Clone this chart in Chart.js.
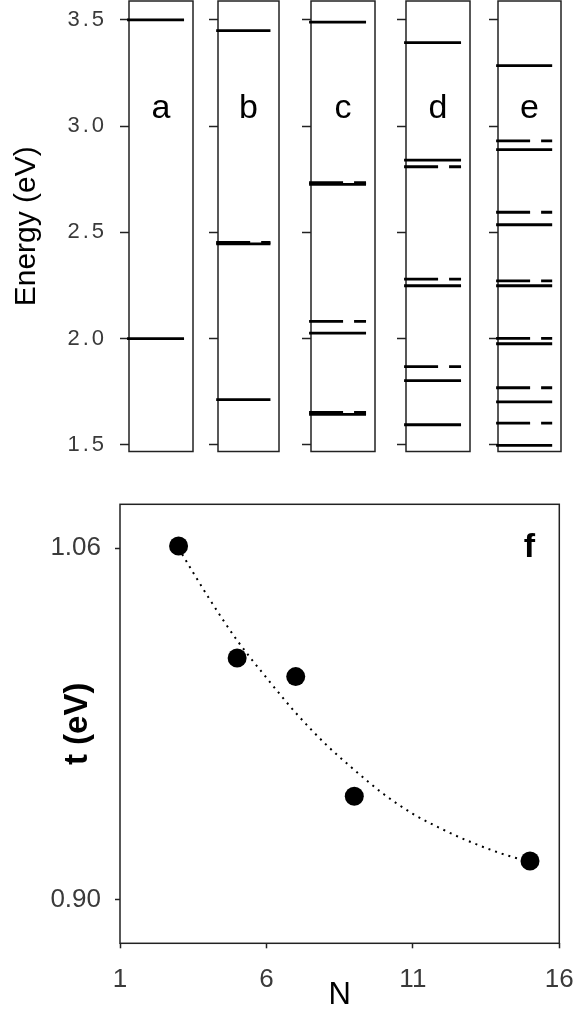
<!DOCTYPE html>
<html><head><meta charset="utf-8">
<script src="https://cdn.jsdelivr.net/npm/chart.js@4.4.1/dist/chart.umd.min.js"></script>
<style>
html,body{margin:0;padding:0;background:#fff;}
#wrap{position:relative;width:576px;height:1012px;overflow:hidden;background:#fff;}
#wrap canvas{position:absolute;}
</style></head><body><div id="wrap"></div>
<script>
// ---------- data ----------
const panelLabels = ['a', 'b', 'c', 'd', 'e', 'f'];
const energyTicks = [1.5, 2.0, 2.5, 3.0, 3.5];

const levelsA_solid  = [3.50, 2.00];
const levelsA_dashed = [];
const levelsB_solid  = [3.45, 2.446, 1.713];
const levelsB_dashed = [2.453];
const levelsC_solid  = [3.49, 2.726, 2.026, 1.644];
const levelsC_dashed = [2.734, 2.081, 1.653];
const levelsD_solid  = [3.393, 2.840, 2.249, 1.803, 1.595];
const levelsD_dashed = [2.809, 2.280, 1.868];
const levelsE_solid  = [3.285, 2.890, 2.536, 2.249, 1.976, 1.703, 1.498];
const levelsE_dashed = [2.931, 2.595, 2.272, 2.001, 1.769, 1.603];

const clusterN = [3, 5, 7, 9, 15];
const hoppingT = [1.061, 1.010, 1.0015, 0.947, 0.9175];
const fitN = [3, 4, 5, 6, 7, 8, 9, 10, 11, 12, 13, 14, 15];
const fitT = [1.060, 1.038, 1.018, 1.001, 0.985, 0.971, 0.959, 0.948, 0.939, 0.932, 0.926, 0.921, 0.917];
const tTicks = [0.90, 1.06];
const nTicks = [1, 6, 11, 16];

// ---------- layout / style ----------
const wrap = document.getElementById('wrap');
const INK = '#000';
const AXIS = '#222';
const TICKTXT = '#3a3a3a';
const FONT = 'Liberation Sans';
const panelBoxes = [
  {l: 129, r: 193}, {l: 218, r: 279}, {l: 311, r: 375}, {l: 406, r: 470}, {l: 498, r: 561}
];
const TOP_H = 470, BOX_TOP = 1, BOX_BOTTOM = 451.5;
const LEVEL_X0 = -0.03, LEVEL_X1 = 0.86;

function makeCanvas(left, top, w, h) {
  const c = document.createElement('canvas');
  c.width = w; c.height = h;
  c.style.left = left + 'px'; c.style.top = top + 'px';
  c.style.width = w + 'px'; c.style.height = h + 'px';
  wrap.appendChild(c);
  return c;
}

function noPad(s) {
  s.paddingTop = 0; s.paddingBottom = 0; s.paddingLeft = 0; s.paddingRight = 0;
}

const boxPlugin = {
  id: 'boxFrame',
  beforeDatasetsDraw(chart) {
    const {ctx, chartArea: a} = chart;
    ctx.save();
    ctx.strokeStyle = AXIS;
    ctx.lineWidth = 1.5;
    ctx.strokeRect(a.left, a.top, a.right - a.left, a.bottom - a.top);
    ctx.restore();
  }
};

const labelPlugin = {
  id: 'panelLabel',
  afterDatasetsDraw(chart, args, opts) {
    if (opts && opts.spacing) chart.ctx.letterSpacing = opts.spacing;
  },
  afterDraw(chart, args, opts) {
    const {ctx, chartArea: a} = chart;
    ctx.letterSpacing = '0px';
    if (!opts || !opts.text) return;
    ctx.save();
    ctx.fillStyle = INK;
    ctx.font = opts.font;
    ctx.textAlign = 'center';
    ctx.textBaseline = 'alphabetic';
    const x = opts.fromRight != null ? a.right - opts.fromRight : (a.left + a.right) / 2;
    ctx.fillText(opts.text, x, a.top + opts.dy);
    ctx.restore();
  }
};

function levelDatasets(solid, dashed) {
  const ds = [];
  solid.forEach(e => ds.push({
    data: [{x: LEVEL_X0, y: e}, {x: LEVEL_X1, y: e}],
    showLine: true, borderColor: INK, borderWidth: 2.8, pointRadius: 0, clip: false
  }));
  dashed.forEach(e => ds.push({
    data: [{x: LEVEL_X0, y: e}, {x: LEVEL_X1, y: e}],
    showLine: true, borderColor: INK, borderWidth: 2.8, borderDash: [34, 11], pointRadius: 0, clip: false
  }));
  return ds;
}

const panelData = [
  [levelsA_solid, levelsA_dashed],
  [levelsB_solid, levelsB_dashed],
  [levelsC_solid, levelsC_dashed],
  [levelsD_solid, levelsD_dashed],
  [levelsE_solid, levelsE_dashed]
];

panelData.forEach(([solid, dashed], i) => {
  const box = panelBoxes[i];
  const axisW = i === 0 ? box.l : 26;
  const rightPad = 8;
  const cw = axisW + (box.r - box.l) + rightPad;
  const cv = makeCanvas(box.l - axisW, 0, cw, TOP_H);
  new Chart(cv, {
    type: 'scatter',
    data: {datasets: levelDatasets(solid, dashed)},
    options: {
      responsive: false, animation: false, events: [],
      layout: {autoPadding: false, padding: {left: 0, right: rightPad, top: BOX_TOP, bottom: TOP_H - BOX_BOTTOM}},
      plugins: {
        legend: {display: false}, tooltip: {enabled: false},
        panelLabel: {text: panelLabels[i], font: '34px "' + FONT + '"', dy: 116.5, spacing: i === 0 ? '3px' : null}
      },
      scales: {
        x: {type: 'linear', display: false, min: 0, max: 1},
        y: {
          type: 'linear', min: 1.469, max: 3.589,
          afterBuildTicks: s => { s.ticks = energyTicks.map(v => ({value: v})); },
          afterFit: s => { s.width = axisW; noPad(s); },
          ticks: {display: i === 0, z: 1, padding: 13, color: TICKTXT,
                  font: {family: FONT, size: 22}, callback: v => Number(v).toFixed(1)},
          grid: {drawOnChartArea: false, drawTicks: true, tickLength: 9, tickWidth: 1.5, tickColor: AXIS},
          border: {display: false},
          title: i === 0 ? {display: true, text: 'Energy (eV)', color: INK,
                            font: {family: FONT, size: 30}, padding: {top: 9, bottom: 0}} : {display: false}
        }
      }
    },
    plugins: [boxPlugin, labelPlugin]
  });
});

// ---------- panel f ----------
const F_TOP = 480, F_H = 532;
const cvF = makeCanvas(0, F_TOP, 576, F_H);
new Chart(cvF, {
  type: 'scatter',
  data: {datasets: [
    {data: clusterN.map((n, k) => ({x: n, y: hoppingT[k]})),
     pointRadius: 9.5, pointBackgroundColor: INK, pointBorderColor: INK, pointBorderWidth: 0,
     showLine: false, order: 0, clip: false},
    {data: fitN.map((n, k) => ({x: n, y: fitT[k]})),
     showLine: true, borderColor: INK, borderWidth: 2, borderDash: [2, 5],
     pointRadius: 0, cubicInterpolationMode: 'monotone', order: 1}
  ]},
  options: {
    responsive: false, animation: false, events: [],
    layout: {autoPadding: false, padding: {left: 0, right: 16.7, top: 24.3, bottom: 0}},
    plugins: {
      legend: {display: false}, tooltip: {enabled: false},
      panelLabel: {text: panelLabels[5], font: 'bold 34px "' + FONT + '"', dy: 52.7, fromRight: 30}
    },
    scales: {
      x: {
        type: 'linear', min: 1, max: 16,
        afterBuildTicks: s => { s.ticks = nTicks.map(v => ({value: v})); },
        afterFit: s => { s.height = 68.7; noPad(s); },
        ticks: {padding: 16, color: TICKTXT, font: {family: FONT, size: 26},
                maxRotation: 0, autoSkip: false, callback: v => String(v)},
        grid: {drawOnChartArea: false, tickLength: 5, tickWidth: 1.5, tickColor: AXIS},
        border: {display: false},
        title: {display: true, text: 'N', color: INK, font: {family: FONT, size: 31}, padding: {top: 0, bottom: -2}}
      },
      y: {
        type: 'linear', min: 0.88, max: 1.08,
        afterBuildTicks: s => { s.ticks = tTicks.map(v => ({value: v})); },
        afterFit: s => { s.width = 120; noPad(s); },
        ticks: {padding: 14, color: TICKTXT, font: {family: FONT, size: 26},
                callback: v => Number(v).toFixed(2)},
        grid: {drawOnChartArea: false, tickLength: 5, tickWidth: 1.5, tickColor: AXIS},
        border: {display: false},
        title: {display: true, text: 't (eV)', color: INK,
                font: {family: FONT, size: 33, weight: 'bold'}, padding: {top: 58, bottom: 0}}
      }
    }
  },
  plugins: [boxPlugin, labelPlugin]
});
</script>
</body></html>
